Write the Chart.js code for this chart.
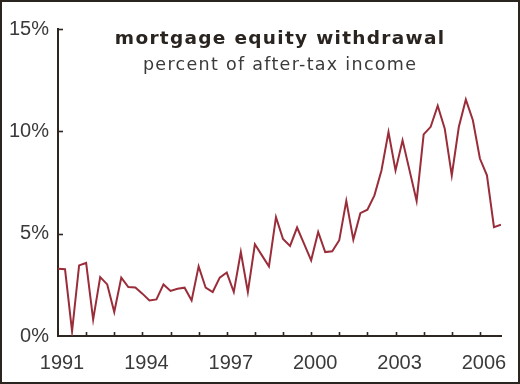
<!DOCTYPE html>
<html>
<head>
<meta charset="utf-8">
<script src="https://cdn.jsdelivr.net/npm/chart.js@4.4.1/dist/chart.umd.min.js"></script>
<style>
  html, body { margin: 0; padding: 0; background: #ffffff; }
  #wrap { width: 520px; height: 384px; box-sizing: border-box; border: 2px solid #2b2520; background: #ffffff; }
  canvas { display: block; }
</style>
</head>
<body>
<div id="wrap"><canvas id="c" width="516" height="380"></canvas></div>
<script>
// ---- data ----
const titleText = "mortgage equity withdrawal";
const subtitleText = "percent of after-tax income";
const startYear = 1991;
const yTickValues = [0, 5, 10, 15];
const xLabelYears = [1991, 1994, 1997, 2000, 2003, 2006];
// quarterly values, 1991 Q1 .. 2006 Q4 (percent of after-tax income)
const withdrawal = [
  3.29, 3.26, 0.23, 3.45, 3.57, 0.80, 2.88, 2.52,
  1.17, 2.85, 2.39, 2.37, 2.07, 1.74, 1.79, 2.52,
  2.20, 2.31, 2.36, 1.74, 3.40, 2.36, 2.15, 2.85,
  3.10, 2.15, 4.10, 2.15, 4.48, 3.94, 3.40, 5.81,
  4.74, 4.40, 5.30, 4.50, 3.70, 5.08, 4.10, 4.14,
  4.68, 6.60, 4.71, 6.00, 6.17, 6.87, 8.09, 9.97,
  8.09, 9.56, 8.08, 6.60, 9.85, 10.22, 11.25, 10.13,
  7.85, 10.21, 11.55, 10.54, 8.67, 7.85, 5.32, 5.44
];
const quarterPos = withdrawal.map((_, i) => startYear + i / 4);

const axisColor = '#2e2620';
const lineColor = '#9a2d3a';
const textColor = '#3a3a3a';

Chart.defaults.font.family = '"Liberation Sans", Arial, sans-serif';

const decor = {
  id: 'decor',
  afterDraw(chart) {
    const ctx = chart.ctx, a = chart.chartArea;
    const xs = chart.scales.x, ys = chart.scales.y;
    ctx.save();
    ctx.strokeStyle = axisColor;
    ctx.lineWidth = 1.6;
    // inward ticks on x axis (every year)
    xs.ticks.forEach(t => {
      if (Number.isInteger(t.value) && t.value > startYear) {
        const px = Math.round(xs.getPixelForValue(t.value)) + 0.5;
        ctx.beginPath(); ctx.moveTo(px, a.bottom); ctx.lineTo(px, a.bottom - 4); ctx.stroke();
      }
    });
    // inward ticks on y axis
    ys.ticks.forEach(t => {
      if (t.value > 0) {
        const py = Math.round(ys.getPixelForValue(t.value)) + 0.5;
        ctx.beginPath(); ctx.moveTo(a.left, py); ctx.lineTo(a.left + 5, py); ctx.stroke();
      }
    });
    // title and subtitle
    const cx = (a.left + a.right) / 2;
    ctx.textAlign = 'center';
    ctx.textBaseline = 'alphabetic';
    ctx.fillStyle = '#2a2420';
    ctx.font = 'bold 18.5px "DejaVu Sans", sans-serif';
    ctx.letterSpacing = '1.3px';
    ctx.fillText(titleText, cx + 0.6, a.top + 15);
    ctx.fillStyle = textColor;
    ctx.font = '17.5px "DejaVu Sans", sans-serif';
    ctx.letterSpacing = '1.3px';
    ctx.fillText(subtitleText, cx + 0.6, a.top + 41);
    ctx.restore();
  }
};

new Chart(document.getElementById('c'), {
  type: 'line',
  data: {
    datasets: [{
      data: withdrawal.map((v, i) => ({ x: quarterPos[i], y: v })),
      borderColor: lineColor,
      borderWidth: 2,
      pointRadius: 0,
      tension: 0,
      fill: false
    }]
  },
  options: {
    responsive: false,
    animation: false,
    layout: { padding: { top: 27, right: 17, left: 0, bottom: 0 } },
    plugins: { legend: { display: false }, tooltip: { enabled: false } },
    scales: {
      x: {
        type: 'linear',
        min: startYear,
        max: 2006.75,
        afterFit: s => { s.height = 46; },
        grid: { display: false },
        border: { display: true, color: axisColor, width: 2 },
        ticks: {
          stepSize: 1,
          includeBounds: false,
          autoSkip: false,
          maxRotation: 0,
          padding: 7,
          labelOffset: 4,
          color: textColor,
          font: { size: 20 },
          callback: v => xLabelYears.includes(v) ? String(v) : ''
        }
      },
      y: {
        min: 0,
        max: 15,
        afterFit: s => { s.width = 56; },
        grid: { display: false },
        border: { display: true, color: axisColor, width: 2 },
        afterBuildTicks: s => { s.ticks = yTickValues.map(v => ({ value: v })); },
        ticks: {
          padding: 1,
          color: textColor,
          font: { size: 20 },
          callback: v => v + '%'
        }
      }
    }
  },
  plugins: [decor]
});
</script>
</body>
</html>
